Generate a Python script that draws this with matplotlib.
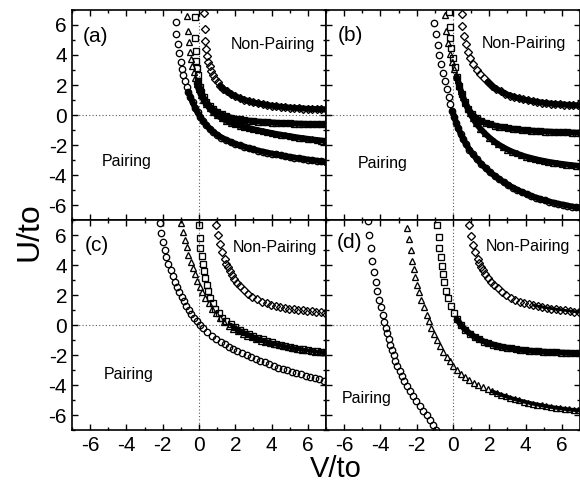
import matplotlib
matplotlib.use("Agg")
import matplotlib.pyplot as plt
from matplotlib.ticker import MultipleLocator

plt.rcParams['font.family'] = ['Liberation Sans', 'DejaVu Sans']
plt.rcParams['axes.unicode_minus'] = False

# ---------------- data (V/to, U/to) ----------------
a_circle = [(-1.29,6.22),(-1.25,5.40),(-1.16,4.71),(-1.08,4.11),(-1.01,3.56),(-0.94,3.10),(-0.86,2.68),
            (-0.77,2.28),(-0.68,1.90),(-0.58,1.54),(-0.47,1.18),(-0.35,0.84),(-0.22,0.50),(-0.08,0.17),
            (0.07,-0.13),(0.23,-0.41),(0.40,-0.67),(0.58,-0.90),(0.78,-1.12),(1.00,-1.32),(1.24,-1.50),
            (1.50,-1.66),(1.75,-1.80),(2.00,-1.92),(2.25,-2.03),(2.50,-2.12),(2.75,-2.21),(3.00,-2.29),
            (3.25,-2.37),(3.50,-2.44),(3.75,-2.51),(4.00,-2.57),(4.25,-2.63),(4.50,-2.69),(4.75,-2.74),
            (5.00,-2.79),(5.25,-2.84),(5.50,-2.89),(5.75,-2.93),(6.00,-2.97),(6.25,-3.01),(6.50,-3.05),
            (6.75,-3.09),(7.00,-3.12)]
a_triangle = [(-0.66,6.62),(-0.62,5.62),(-0.56,4.89),(-0.49,4.22),(-0.43,3.71),(-0.37,3.25),(-0.30,2.85),
              (-0.22,2.46),(-0.13,2.08),(-0.02,1.71),(0.10,1.36),(0.24,1.03),(0.40,0.73),(0.58,0.45),
              (0.78,0.20),(1.00,-0.02),(1.25,-0.22),(1.50,-0.38),(1.75,-0.51),(2.00,-0.62),(2.25,-0.71),
              (2.50,-0.80),(2.75,-0.88),(3.00,-0.95),(3.25,-1.02),(3.50,-1.08),(3.75,-1.14),(4.00,-1.20),
              (4.25,-1.26),(4.50,-1.31),(4.75,-1.36),(5.00,-1.41),(5.25,-1.46),(5.50,-1.51),(5.75,-1.55),
              (6.00,-1.59),(6.25,-1.63),(6.50,-1.67),(6.75,-1.70),(7.00,-1.73)]
a_square = [(-0.24,6.52),(-0.21,5.12),(-0.18,4.25),(-0.15,3.62),(-0.12,3.12),(-0.08,2.68),(-0.03,2.27),
            (0.04,1.88),(0.13,1.52),(0.25,1.18),(0.40,0.87),(0.58,0.60),(0.78,0.38),(1.00,0.20),
            (1.25,0.04),(1.50,-0.08),(1.75,-0.17),(2.00,-0.24),(2.25,-0.29),(2.50,-0.34),(2.75,-0.38),
            (3.00,-0.41),(3.25,-0.44),(3.50,-0.46),(3.75,-0.48),(4.00,-0.50),(4.25,-0.52),(4.50,-0.53),
            (4.75,-0.55),(5.00,-0.56),(5.25,-0.57),(5.50,-0.58),(5.75,-0.59),(6.00,-0.60),(6.25,-0.61),
            (6.50,-0.61),(6.75,-0.62),(7.00,-0.62)]
a_diamond = [(0.29,6.82),(0.31,5.71),(0.35,4.96),(0.40,4.38),(0.45,3.93),(0.51,3.56),(0.58,3.24),
             (0.67,2.95),(0.77,2.68),(0.89,2.42),(1.02,2.18),(1.17,1.96),(1.34,1.76),(1.53,1.57),
             (1.75,1.40),(2.00,1.25),(2.25,1.12),(2.50,1.01),(2.75,0.92),(3.00,0.84),(3.25,0.77),
             (3.50,0.72),(3.75,0.67),(4.00,0.62),(4.25,0.58),(4.50,0.55),(4.75,0.52),(5.00,0.49),
             (5.25,0.47),(5.50,0.45),(5.75,0.43),(6.00,0.41),(6.25,0.40),(6.50,0.39),(6.75,0.38),
             (7.00,0.37)]

b_circle = [(-1.03,6.16),(-0.94,5.40),(-0.85,4.67),(-0.75,4.00),(-0.66,3.40),(-0.57,2.82),(-0.46,2.29),
            (-0.35,1.73),(-0.24,1.18),(-0.14,0.72),(-0.04,0.30),(0.06,-0.10),(0.17,-0.50),(0.29,-0.88),
            (0.42,-1.25),(0.56,-1.60),(0.72,-1.95),(0.90,-2.30),(1.10,-2.63),(1.32,-2.95),(1.55,-3.25),
            (1.80,-3.55),(2.05,-3.82),(2.30,-4.06),(2.55,-4.28),(2.80,-4.48),(3.05,-4.67),(3.30,-4.84),
            (3.55,-5.00),(3.80,-5.14),(4.05,-5.27),(4.30,-5.39),(4.55,-5.50),(4.80,-5.60),(5.05,-5.69),
            (5.30,-5.77),(5.55,-5.85),(5.80,-5.92),(6.05,-5.98),(6.30,-6.04),(6.55,-6.10),(6.80,-6.15),
            (7.05,-6.19)]
b_triangle = [(-0.47,6.67),(-0.40,5.60),(-0.30,4.78),(-0.18,4.05),(-0.05,3.55),(0.07,3.10),(0.17,2.70),
              (0.26,2.33),(0.35,1.95),(0.44,1.58),(0.55,1.17),(0.68,0.78),(0.81,0.44),(0.94,0.11),
              (1.10,-0.23),(1.27,-0.56),(1.50,-0.90),(1.75,-1.22),(2.00,-1.50),(2.25,-1.75),(2.50,-1.96),
              (2.75,-2.14),(3.00,-2.30),(3.25,-2.44),(3.50,-2.56),(3.75,-2.67),(4.00,-2.77),(4.25,-2.85),
              (4.50,-2.93),(4.75,-3.00),(5.00,-3.06),(5.25,-3.12),(5.50,-3.17),(5.75,-3.22),(6.00,-3.26),
              (6.25,-3.30),(6.50,-3.34),(6.75,-3.37),(7.00,-3.40)]
b_square = [(-0.22,6.85),(-0.19,5.89),(-0.15,5.11),(-0.09,4.44),(-0.01,3.80),(0.09,3.17),(0.21,2.55),
            (0.34,1.95),(0.49,1.38),(0.65,0.88),(0.84,0.42),(1.05,0.06),(1.30,-0.22),(1.55,-0.40),
            (1.80,-0.53),(2.05,-0.63),(2.30,-0.71),(2.55,-0.77),(2.80,-0.83),(3.05,-0.88),(3.30,-0.92),
            (3.55,-0.96),(3.80,-0.99),(4.05,-1.02),(4.30,-1.04),(4.55,-1.06),(4.80,-1.08),(5.05,-1.10),
            (5.30,-1.11),(5.55,-1.13),(5.80,-1.14),(6.05,-1.15),(6.30,-1.16),(6.55,-1.17),(6.80,-1.18),
            (7.05,-1.19)]
b_diamond = [(0.47,6.72),(0.52,5.92),(0.60,5.25),(0.70,4.70),(0.82,4.22),(0.96,3.78),(1.12,3.38),
             (1.30,3.03),(1.48,2.74),(1.68,2.46),(1.90,2.19),(2.13,1.95),(2.38,1.74),(2.63,1.57),
             (2.88,1.42),(3.13,1.30),(3.38,1.20),(3.63,1.11),(3.88,1.04),(4.13,0.98),(4.38,0.92),
             (4.63,0.87),(4.88,0.83),(5.13,0.79),(5.38,0.76),(5.63,0.73),(5.88,0.71),(6.13,0.69),
             (6.38,0.67),(6.63,0.65),(6.88,0.64),(7.10,0.63)]

c_circle = [(-2.13,6.82),(-2.08,6.16),(-1.99,5.55),(-1.90,5.02),(-1.80,4.53),(-1.69,4.08),(-1.57,3.66),
            (-1.45,3.27),(-1.33,2.90),(-1.21,2.55),(-1.08,2.21),(-0.95,1.89),(-0.83,1.58),(-0.71,1.29),
            (-0.57,1.01),(-0.43,0.75),(-0.28,0.50),(-0.12,0.26),(0.04,0.03),(0.24,-0.22),(0.46,-0.46),
            (0.70,-0.71),(0.95,-0.93),(1.20,-1.13),(1.42,-1.29),(1.64,-1.44),(1.88,-1.60),(2.12,-1.75),
            (2.37,-1.89),(2.62,-2.02),(2.87,-2.14),(3.12,-2.26),(3.37,-2.37),(3.62,-2.49),(3.87,-2.61),
            (4.12,-2.74),(4.37,-2.84),(4.62,-2.93),(4.87,-3.02),(5.12,-3.11),(5.37,-3.20),(5.62,-3.29),
            (5.87,-3.38),(6.12,-3.47),(6.37,-3.55),(6.62,-3.63),(6.87,-3.71),(7.10,-3.77)]
c_triangle = [(-0.99,6.82),(-0.88,6.22),(-0.78,5.70),(-0.68,5.20),(-0.58,4.70),(-0.46,4.22),(-0.34,3.80),
              (-0.22,3.38),(-0.09,2.96),(0.04,2.56),(0.19,2.17),(0.35,1.80),(0.53,1.45),(0.72,1.10),
              (0.93,0.78),(1.15,0.48),(1.40,0.20),(1.65,-0.04),(1.90,-0.24),(2.15,-0.42),(2.40,-0.57),
              (2.65,-0.71),(2.90,-0.83),(3.15,-0.94),(3.40,-1.04),(3.65,-1.13),(3.90,-1.21),(4.15,-1.29),
              (4.40,-1.36),(4.65,-1.43),(4.90,-1.49),(5.15,-1.55),(5.40,-1.60),(5.65,-1.65),(5.90,-1.69),
              (6.15,-1.73),(6.40,-1.77),(6.65,-1.80),(6.90,-1.83),(7.10,-1.85)]
c_square = [(-0.02,6.67),(0.03,5.78),(0.08,5.15),(0.14,4.60),(0.20,4.08),(0.27,3.58),(0.34,3.12),
            (0.42,2.68),(0.51,2.25),(0.62,1.83),(0.75,1.45),(0.90,1.10),(1.08,0.78),(1.28,0.50),
            (1.50,0.26),(1.75,0.04),(2.00,-0.14),(2.25,-0.31),(2.50,-0.46),(2.75,-0.60),(3.00,-0.73),
            (3.25,-0.85),(3.50,-0.96),(3.75,-1.06),(4.00,-1.15),(4.25,-1.24),(4.50,-1.32),(4.75,-1.39),
            (5.00,-1.46),(5.25,-1.52),(5.50,-1.58),(5.75,-1.63),(6.00,-1.68),(6.25,-1.72),(6.50,-1.76),
            (6.75,-1.80),(7.00,-1.83)]
c_diamond = [(0.94,6.67),(1.03,6.00),(1.14,5.40),(1.27,4.89),(1.41,4.38),(1.50,4.10),(1.60,3.84),
             (1.71,3.58),(1.82,3.33),(1.95,3.07),(2.09,2.82),(2.27,2.57),(2.46,2.33),(2.68,2.10),
             (2.92,1.89),(3.18,1.71),(3.47,1.56),(3.72,1.45),(3.97,1.36),(4.22,1.28),(4.47,1.21),
             (4.72,1.15),(4.97,1.10),(5.22,1.05),(5.47,1.01),(5.72,0.97),(5.97,0.94),(6.22,0.91),
             (6.47,0.88),(6.72,0.85),(6.97,0.83)]

d_circle = [(-4.68,6.93),(-4.61,6.00),(-4.52,5.11),(-4.44,4.29),(-4.35,3.56),(-4.26,2.89),(-4.17,2.27),
            (-4.07,1.70),(-3.97,1.17),(-3.87,0.68),(-3.78,0.22),(-3.70,-0.18),(-3.62,-0.56),(-3.54,-0.94),
            (-3.46,-1.31),(-3.37,-1.67),(-3.28,-2.03),(-3.18,-2.38),(-3.07,-2.72),(-2.95,-3.06),
            (-2.82,-3.39),(-2.68,-3.72),(-2.53,-4.05),(-2.37,-4.38),(-2.20,-4.71),(-2.02,-5.04),
            (-1.83,-5.37),(-1.64,-5.70),(-1.45,-6.03),(-1.26,-6.36),(-1.08,-6.69),(-0.92,-6.98)]
d_triangle = [(-2.52,6.44),(-2.44,5.72),(-2.34,4.98),(-2.24,4.30),(-2.16,3.71),(-2.07,3.18),(-1.98,2.67),
              (-1.88,2.18),(-1.75,1.67),(-1.61,1.18),(-1.46,0.70),(-1.33,0.24),(-1.20,-0.20),(-1.06,-0.62),
              (-0.90,-1.03),(-0.73,-1.42),(-0.55,-1.78),(-0.36,-2.11),(-0.17,-2.43),(0.02,-2.73),
              (0.22,-3.00),(0.43,-3.24),(0.66,-3.46),(0.90,-3.66),(1.15,-3.84),(1.40,-4.00),(1.65,-4.15),
              (1.90,-4.29),(2.15,-4.42),(2.40,-4.54),(2.65,-4.65),(2.90,-4.75),(3.15,-4.85),(3.40,-4.94),
              (3.65,-5.02),(3.90,-5.10),(4.15,-5.17),(4.40,-5.24),(4.65,-5.30),(4.90,-5.36),(5.15,-5.41),
              (5.40,-5.46),(5.65,-5.51),(5.90,-5.55),(6.15,-5.59),(6.40,-5.63),(6.65,-5.66),(6.90,-5.69),
              (7.10,-5.71)]
d_square = [(-0.86,6.67),(-0.80,5.90),(-0.75,5.15),(-0.69,4.53),(-0.63,3.95),(-0.56,3.40),(-0.48,2.84),
            (-0.38,2.30),(-0.26,1.78),(-0.12,1.27),(0.04,0.80),(0.22,0.38),(0.44,0.00),(0.68,-0.32),
            (0.94,-0.58),(1.20,-0.80),(1.45,-0.96),(1.70,-1.10),(1.95,-1.21),(2.20,-1.30),(2.45,-1.38),
            (2.70,-1.45),(2.95,-1.51),(3.20,-1.56),(3.45,-1.61),(3.70,-1.65),(3.95,-1.68),(4.20,-1.71),
            (4.45,-1.74),(4.70,-1.76),(4.95,-1.78),(5.20,-1.80),(5.45,-1.81),(5.70,-1.83),(5.95,-1.84),
            (6.20,-1.85),(6.45,-1.86),(6.70,-1.87),(6.95,-1.88)]
d_diamond = [(0.86,6.67),(0.99,5.93),(1.08,5.33),(1.21,4.84),(1.36,4.38),(1.45,4.13),(1.54,3.89),
             (1.65,3.64),(1.78,3.40),(1.93,3.14),(2.09,2.89),(2.27,2.66),(2.46,2.44),(2.68,2.21),
             (2.92,2.00),(3.17,1.82),(3.42,1.68),(3.67,1.56),(3.92,1.47),(4.17,1.39),(4.42,1.32),
             (4.67,1.26),(4.92,1.20),(5.17,1.15),(5.42,1.10),(5.67,1.06),(5.92,1.02),(6.17,0.98),
             (6.42,0.94),(6.67,0.90),(6.92,0.86)]

panel_labels = ['(a)', '(b)', '(c)', '(d)']
tick_values = [-6, -4, -2, 0, 2, 4, 6]
tick_labels = ['-6', '-4', '-2', '0', '2', '4', '6']
x_label = 'V/to'
y_label = 'U/to'

# ---------------- style: index from which the markers overlap into a solid band, band width ----
band_style = {
    'a': [(9, 4.3), (8, 4.3), (6, 4.3), (11, 4.3)],
    'b': [(10, 4.3), (9, 4.3), (6, 4.3), (10, 4.3)],
    'c': [(None, 0), (18, 2.4), (15, 2.4), (None, 0)],
    'd': [(None, 0), (28, 2.8), (11, 4.3), (20, 2.0)],
}

# ---------------- figure ----------------
fig = plt.figure(figsize=(5.8, 4.83), dpi=100)
W = 0.438
H = 0.4348
lefts = [0.1241, 0.5621]
bottoms = [0.5445, 0.1097]

panels = [
    ('a', 0, 0, [a_circle, a_triangle, a_square, a_diamond], (-5.72, 5.25), (4.08, 4.73), (-4.0, -3.12)),
    ('b', 0, 1, [b_circle, b_triangle, b_square, b_diamond], (-5.68, 5.28), (3.89, 4.77), (-3.86, -3.2)),
    ('c', 1, 0, [c_circle, c_triangle, c_square, c_diamond], (-5.65, 5.27), (4.19, 5.2), (-3.89, -3.33)),
    ('d', 1, 1, [d_circle, d_triangle, d_square, d_diamond], (-5.68, 5.5), (4.13, 5.22), (-4.77, -4.88)),
]
markers = [('o', 4.6), ('^', 4.8), ('s', 4.2), ('D', 3.8)]

for idx, (key, row, col, series, lab_pos, np_pos, p_pos) in enumerate(panels):
    ax = fig.add_axes([lefts[col], bottoms[row], W, H])
    ax.set_xlim(-7, 7)
    ax.set_ylim(-7, 7)
    ax.axhline(0, color='0.35', lw=0.8, ls=(0, (1, 2)), zorder=1)
    ax.axvline(0, color='0.35', lw=0.8, ls=(0, (1, 2)), zorder=1)
    for pts, (m, ms), (start, bw) in zip(series, markers, band_style[key]):
        xs = [p[0] for p in pts]
        ys = [p[1] for p in pts]
        if start is not None:
            ax.plot(xs[start:], ys[start:], color='black', lw=bw,
                    solid_capstyle='round', zorder=2)
        ax.plot(xs, ys, linestyle='none', marker=m, markersize=ms,
                markerfacecolor='none', markeredgecolor='black',
                markeredgewidth=0.95, zorder=3)
    ax.text(lab_pos[0], lab_pos[1], panel_labels[idx], fontsize=15,
            ha='center', va='center')
    ax.text(np_pos[0], np_pos[1], 'Non-Pairing', fontsize=11.5,
            ha='center', va='center')
    ax.text(p_pos[0], p_pos[1], 'Pairing', fontsize=11.5,
            ha='center', va='center')

    ax.set_xticks(tick_values)
    ax.set_yticks(tick_values)
    ax.xaxis.set_minor_locator(MultipleLocator(1))
    ax.yaxis.set_minor_locator(MultipleLocator(1))
    ax.tick_params(which='both', direction='in', top=True, right=True,
                   width=1.0)
    ax.tick_params(which='major', length=4)
    ax.tick_params(which='minor', length=2)
    ax.tick_params(axis='x', pad=4)
    ax.tick_params(axis='y', pad=3.5)
    if row == 1:
        ax.set_xticklabels(tick_labels, fontsize=15)
    else:
        ax.set_xticklabels([])
    if col == 0:
        ax.set_yticklabels(tick_labels, fontsize=15)
    else:
        ax.set_yticklabels([])
    for s in ax.spines.values():
        s.set_linewidth(1.2)

fig.text(0.579, 0.012, x_label, fontsize=21, ha='center', va='baseline')
fig.text(0.064, 0.521, y_label, fontsize=23, ha='center', va='baseline',
         rotation=90, rotation_mode='anchor')

fig.savefig('out.png', dpi=100)
